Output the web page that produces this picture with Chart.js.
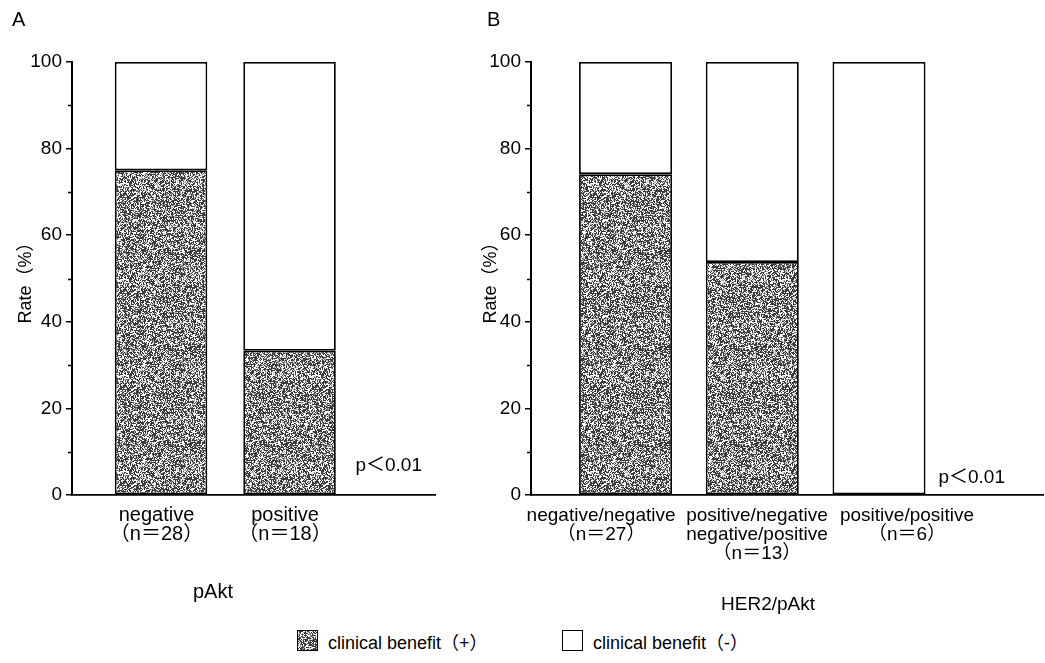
<!DOCTYPE html>
<html><head><meta charset="utf-8">
<script src="https://cdn.jsdelivr.net/npm/chart.js@4.4.1/dist/chart.umd.min.js"></script>
<style>
body{margin:0;background:#fff;width:1045px;height:663px;position:relative;overflow:hidden;font-family:"Liberation Sans","Noto Sans CJK JP",Arial,sans-serif;color:#000;}
canvas{position:absolute;top:0;}
#ca{left:0;}
#cb{left:470px;}
.pl{position:absolute;font-size:20px;top:7px;line-height:24px;}
.leg{position:absolute;top:629px;height:23px;display:flex;align-items:center;font-size:18px;white-space:nowrap;}
.leg canvas{position:static;margin-right:9px;}
</style></head>
<body>
<canvas id="ca" width="470" height="620"></canvas>
<canvas id="cb" width="575" height="620"></canvas>
<div class="pl" style="left:12px">A</div>
<div class="pl" style="left:487px">B</div>
<div class="leg" style="left:296px"><canvas id="lg1" width="23" height="23"></canvas><span id="lt1"></span></div>
<div class="leg" style="left:561px"><canvas id="lg2" width="23" height="23"></canvas><span id="lt2"></span></div>
<script>
// ---- data ----
const seriesNames = ['clinical benefit（+）', 'clinical benefit（-）'];
const categoriesA = [['negative', '（n＝28）'], ['positive', '（n＝18）']];
const benefitPlusA = [75.0, 33.3];
const benefitMinusA = [25.0, 66.7];
const categoriesB = [['negative/negative', '（n＝27）'], ['positive/negative', 'negative/positive', '（n＝13）'], ['positive/positive', '（n＝6）']];
const benefitPlusB = [74.1, 53.8, 0];
const benefitMinusB = [25.9, 46.2, 100];
const yTicks = [0, 20, 40, 60, 80, 100];
const yMinorTicks = [10, 30, 50, 70, 90];
const pText = 'p＜0.01';

const FONT = '"Liberation Sans","Noto Sans CJK JP",Arial,sans-serif';

// stipple texture (deterministic)
function stippleCanvas(){
  const N = 96;
  const c = document.createElement('canvas'); c.width = N; c.height = N;
  const g = c.getContext('2d');
  const img = g.createImageData(N, N);
  for (let i = 0; i < N*N; i++){
    let h = Math.imul(i + 12345, 2654435761) >>> 0;
    h ^= h >>> 15; h = Math.imul(h, 2246822519) >>> 0; h ^= h >>> 13;
    h = Math.imul(h, 3266489917) >>> 0; h ^= h >>> 16;
    const r = (h % 10000) / 10000;
    let v = 255;
    if (r < 0.04) v = 60; else if (r < 0.32) v = 178;
    img.data[i*4] = img.data[i*4+1] = img.data[i*4+2] = v; img.data[i*4+3] = 255;
  }
  g.putImageData(img, 0, 0);
  return c;
}
const STIP = stippleCanvas();

const extras = {
  id: 'extras',
  afterDraw(chart, args, o){
    const {ctx, chartArea} = chart;
    const y = chart.scales.y;
    ctx.save();
    ctx.strokeStyle = '#000'; ctx.lineWidth = 1.5;
    yMinorTicks.forEach(v => {
      const py = Math.round(y.getPixelForValue(v)) + 0.5;
      ctx.beginPath(); ctx.moveTo(chartArea.left - 4, py); ctx.lineTo(chartArea.left, py); ctx.stroke();
    });
    ctx.fillStyle = '#000';
    ctx.font = o.pSize + 'px ' + FONT;
    ctx.textAlign = 'right'; ctx.textBaseline = 'middle';
    ctx.fillText(pText, chartArea.right - o.pRight, chartArea.bottom - o.pUp);
    ctx.font = o.xTitleSize + 'px ' + FONT;
    ctx.textAlign = 'center';
    ctx.fillText(o.xTitle, o.xTitleX, o.xTitleY);
    ctx.restore();
  }
};

function makeChart(id, cats, plus, minus, cfg){
  const ctx = document.getElementById(id).getContext('2d');
  const pat = ctx.createPattern(STIP, 'repeat');
  return new Chart(ctx, {
    type: 'bar',
    data: { datasets: [
      { label: seriesNames[0], data: plus.map((v,i)=>({x:i, y:v})), backgroundColor: pat, borderColor: '#000', borderWidth: 1.8, borderSkipped: false },
      { label: seriesNames[1], data: minus.map((v,i)=>({x:i, y:v})), backgroundColor: '#fff', borderColor: '#000', borderWidth: 1.8, borderSkipped: false }
    ]},
    options: {
      responsive: false, animation: false, devicePixelRatio: 1,
      layout: { padding: { top: 62, right: cfg.padRight, left: 0, bottom: 0 } },
      barPercentage: cfg.barPct, categoryPercentage: 1,
      plugins: { legend: { display: false }, tooltip: { enabled: false },
        extras: { pRight: cfg.pRight, pUp: cfg.pUp, pSize: 19, xTitle: cfg.xTitle, xTitleX: cfg.xTitleX, xTitleY: cfg.xTitleY, xTitleSize: cfg.xTitleSize } },
      scales: {
        x: { type: 'linear', stacked: true, min: cfg.xmin, max: cfg.xmax, offset: false,
          grid: { display: false, drawTicks: false, offset: false },
          border: { display: true, color: '#000', width: 1.8 },
          afterBuildTicks: s => { s.ticks = cfg.labelAt.map(v => ({value: v})); },
          ticks: { autoSkip: false, maxRotation: 0, padding: cfg.labelPad, color: '#000',
            font: { family: FONT, size: cfg.labelSize, lineHeight: cfg.labelLH },
            callback: (v, i) => cats[i] },
          afterFit: s => { s.height = 125; } },
        y: { stacked: true, min: 0, max: 100,
          afterBuildTicks: s => { s.ticks = yTicks.map(v => ({value: v})); },
          grid: { drawOnChartArea: false, tickLength: 6, color: '#000', lineWidth: 1.5 },
          border: { display: true, color: '#000', width: 2 },
          ticks: { padding: 4, color: '#000', font: { family: FONT, size: 19 } },
          title: { display: true, text: 'Rate（%）', color: '#000', font: { family: FONT, size: 18 }, padding: { top: cfg.yTitlePad, bottom: 0 } },
          afterFit: s => { s.width = cfg.yWidth; } }
      }
    },
    plugins: [extras]
  });
}

makeChart('ca', categoriesA, benefitPlusA, benefitMinusA, {
  padRight: 35, yWidth: 72, yTitlePad: 15, xmin: -0.693, xmax: 2.132, barPct: 0.72,
  labelAt: [-0.035, 0.965], labelSize: 20, labelLH: '19px', labelPad: 11,
  pRight: 13, pUp: 29, xTitle: 'pAkt', xTitleX: 213, xTitleY: 592, xTitleSize: 20
});
makeChart('cb', categoriesB, benefitPlusB, benefitMinusB, {
  padRight: 2, yWidth: 61, yTitlePad: 10, xmin: -0.746, xmax: 3.294, barPct: 0.734,
  labelAt: [-0.193, 1.037, 2.221], labelSize: 19, labelLH: '19px', labelPad: 11,
  pRight: 38, pUp: 17, xTitle: 'HER2/pAkt', xTitleX: 298, xTitleY: 605, xTitleSize: 19
});

// legend
function swatch(id, fill){
  const c = document.getElementById(id), g = c.getContext('2d');
  g.fillStyle = fill === 'pattern' ? g.createPattern(STIP, 'repeat') : '#fff';
  g.fillRect(1, 1, 21, 21);
  g.strokeStyle = '#000'; g.lineWidth = 1; g.strokeRect(1.5, 1.5, 20, 20);
}
swatch('lg1', 'pattern'); swatch('lg2', 'white');
document.getElementById('lt1').textContent = seriesNames[0];
document.getElementById('lt2').textContent = seriesNames[1];
</script>
</body></html>
